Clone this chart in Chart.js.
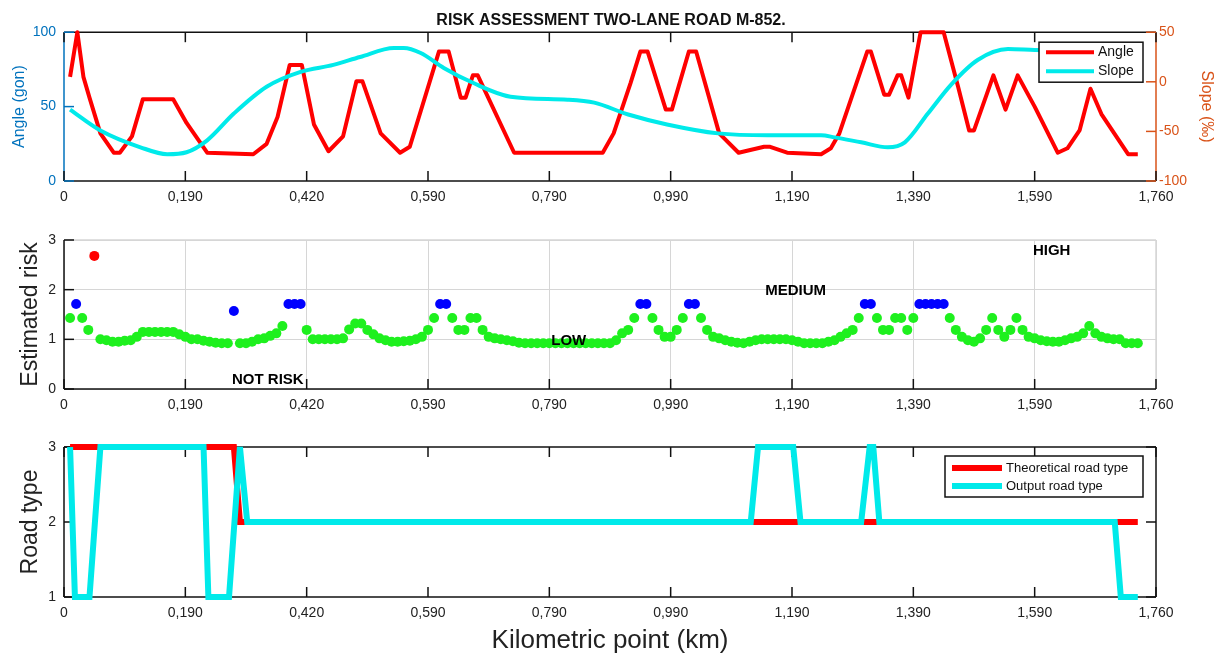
<!DOCTYPE html>
<html>
<head>
<meta charset="utf-8">
<title>Risk assessment two-lane road M-852</title>
<script src="https://cdn.jsdelivr.net/npm/chart.js@4.4.1/dist/chart.umd.min.js"></script>
<style>
    body { margin: 0; background: #fff; }
    canvas { position: absolute; left: 0; }
</style>
</head>
<body>
<canvas id="angle-slope-chart" width="1222" height="215" style="top:0px"></canvas>
<canvas id="risk-chart" width="1222" height="205" style="top:215px"></canvas>
<canvas id="road-type-chart" width="1222" height="240" style="top:420px"></canvas>
<script>
"use strict";

// x axis is drawn in "tick units": one unit between two labelled ticks
var tickLabels = ['0', '0,190', '0,420', '0,590', '0,790', '0,990', '1,190', '1,390', '1,590', '1,760'];

// top panel: horizontal angle (gon) and slope (per mille)
var angleKm = [0.05, 0.11, 0.16, 0.21, 0.30, 0.41, 0.46, 0.56, 0.65, 0.90, 1.01, 1.18, 1.56, 1.67, 1.76, 1.86, 1.96, 2.06, 2.18, 2.30,
    2.41, 2.46, 2.61, 2.77, 2.85, 3.09, 3.17, 3.27, 3.31, 3.37, 3.41, 3.71, 4.44, 4.53, 4.67, 4.75, 4.81, 4.96, 5.01, 5.15,
    5.21, 5.40, 5.56, 5.77, 5.82, 5.96, 6.24, 6.32, 6.39, 6.62, 6.65, 6.76, 6.80, 6.87, 6.90, 6.96, 7.06, 7.25, 7.37, 7.46,
    7.50, 7.66, 7.76, 7.86, 8.00, 8.19, 8.27, 8.37, 8.46, 8.55, 8.77, 8.85];
var angleGon = [70, 100, 70, 56, 32, 19, 19, 30, 55, 55, 39, 19, 18, 25, 43, 78, 78, 38, 20, 30,
    67, 67, 32, 19, 23, 87, 87, 56, 56, 71, 71, 19, 19, 32, 66, 87, 87, 48, 48, 87,
    87, 32, 19, 23, 23, 19, 18, 22, 32, 87, 87, 58, 58, 71, 71, 56, 100, 100, 63, 34,
    34, 71, 48, 71, 50, 19, 22, 34, 62, 45, 18, 18];
var slopeKm = [0.05, 0.30, 0.63, 0.85, 1.01, 1.18, 1.40, 1.67, 1.95, 2.22, 2.44, 2.72, 2.80, 2.94, 3.13, 3.37, 3.68, 4.15, 4.37, 4.65,
    4.97, 5.39, 5.80, 6.24, 6.35, 6.57, 6.79, 6.93, 7.12, 7.31, 7.53, 7.78, 8.00, 8.85];
var slopePermil = [-28, -49, -66, -73, -71, -59, -32, -5, 10, 17, 25, 34, 34, 29, 14, -1, -15, -18, -21, -33,
    -43, -52, -54, -54, -56, -61, -66, -61, -32, -3, 22, 33, 32, 30];

// middle panel: estimated risk, one sample every riskStep tick units
var riskStart = 0.05;
var riskStep = 0.05;
var riskValues = [
    1.43, 1.71, 1.43, 1.19, 2.68, 1.00, 0.98, 0.95, 0.95, 0.97, 0.98, 1.05, 1.15, 1.15, 1.15, 1.15, 1.15, 1.15, 1.10, 1.05,
    1.00, 1.00, 0.97, 0.95, 0.93, 0.92, 0.92, 1.57, 0.92, 0.92, 0.95, 1.00, 1.02, 1.07, 1.12, 1.27, 1.71, 1.71, 1.71, 1.19,
    1.00, 1.00, 1.00, 1.00, 1.00, 1.02, 1.20, 1.32, 1.32, 1.19, 1.10, 1.02, 0.98, 0.95, 0.95, 0.96, 0.97, 1.00, 1.05, 1.19,
    1.43, 1.71, 1.71, 1.43, 1.19, 1.19, 1.43, 1.43, 1.19, 1.05, 1.02, 1.00, 0.98, 0.96, 0.93, 0.92, 0.92, 0.92, 0.92, 0.92,
    0.92, 0.92, 0.92, 0.92, 0.92, 0.92, 0.92, 0.92, 0.92, 0.92, 0.98, 1.12, 1.19, 1.43, 1.71, 1.71, 1.43, 1.19, 1.05, 1.05,
    1.19, 1.43, 1.71, 1.71, 1.43, 1.19, 1.05, 1.02, 0.98, 0.95, 0.93, 0.92, 0.95, 0.98, 1.00, 1.00, 1.00, 1.00, 1.00, 0.98,
    0.95, 0.92, 0.92, 0.92, 0.92, 0.95, 0.98, 1.05, 1.12, 1.19, 1.43, 1.71, 1.71, 1.43, 1.19, 1.19, 1.43, 1.43, 1.19, 1.43,
    1.71, 1.71, 1.71, 1.71, 1.71, 1.43, 1.19, 1.05, 0.98, 0.95, 1.02, 1.19, 1.43, 1.19, 1.05, 1.19, 1.43, 1.19, 1.05, 1.02,
    0.98, 0.96, 0.95, 0.95, 0.98, 1.02, 1.05, 1.12, 1.27, 1.12, 1.05, 1.02, 1.00, 1.00, 0.92, 0.92, 0.92
];
var riskLabels = [
    { text: 'NOT RISK', x: 1.68, y: 0.18 },
    { text: 'LOW', x: 4.16, y: 0.97 },
    { text: 'MEDIUM', x: 6.03, y: 1.97 },
    { text: 'HIGH', x: 8.14, y: 2.78 }
];

// bottom panel: road type
var theoreticalKm = [0.05, 1.40, 1.45, 8.85];
var theoreticalType = [3, 3, 2, 2];
var outputKm = [0.05, 0.09, 0.21, 0.30, 1.15, 1.19, 1.36, 1.45, 1.51, 5.66, 5.72, 6.01, 6.07, 6.57, 6.64, 6.67, 6.72, 8.66, 8.71, 8.85];
var outputType = [3, 1, 1, 3, 3, 1, 1, 3, 2, 2, 3, 3, 2, 2, 3, 3, 2, 2, 1, 1];

var FONT = '"Liberation Sans", Arial, sans-serif';
var RED = '#ff0000';
var CYAN = '#00eaea';
var BLUE_AXIS = '#0072bd';
var ORANGE_AXIS = '#d95319';

function toPoints(xs, ys) {
    return xs.map(function (x, i) { return { x: x, y: ys[i] }; });
}

function riskColor(v) {
    if (v >= 2.5) return '#ff0000';
    if (v >= 1.5) return '#0000ff';
    return '#1ef01e';
}

/* box around the plot area with inward ticks, matlab style */
var axesFrame = {
    id: 'axesFrame',
    beforeDatasetsDraw: function (chart, args, opts) {
        var ctx = chart.ctx, a = chart.chartArea, xs = chart.scales.x;
        var line = function (x1, y1, x2, y2, c) {
            ctx.strokeStyle = c;
            ctx.beginPath();
            ctx.moveTo(x1, y1);
            ctx.lineTo(x2, y2);
            ctx.stroke();
        };
        ctx.save();
        ctx.lineWidth = 1.5;
        line(a.left, a.top, a.right, a.top, opts.top);
        line(a.right, a.top, a.right, a.bottom, opts.right);
        line(a.left, a.bottom, a.right, a.bottom, opts.bottom);
        line(a.left, a.top, a.left, a.bottom, opts.left);
        xs.ticks.forEach(function (t) {
            var px = xs.getPixelForValue(t.value);
            line(px, a.bottom, px, a.bottom - 10, opts.bottom);
            if (opts.topTicks) line(px, a.top, px, a.top + 10, opts.top);
        });
        (opts.yTicks || []).forEach(function (yt) {
            var s = chart.scales[yt.axis];
            s.ticks.forEach(function (t) {
                var py = s.getPixelForValue(t.value);
                if (yt.side === 'left') line(a.left, py, a.left + 10, py, yt.color);
                else line(a.right, py, a.right - 10, py, yt.color);
            });
        });
        ctx.restore();
    }
};

/* boxed legend inside the top right corner of the plot area */
var boxLegend = {
    id: 'boxLegend',
    afterDraw: function (chart, args, opts) {
        if (!opts.items) return;
        var ctx = chart.ctx, a = chart.chartArea;
        var x = a.right - opts.right - opts.width, y = a.top + opts.top;
        ctx.save();
        ctx.fillStyle = '#fff';
        ctx.fillRect(x, y, opts.width, opts.height);
        ctx.strokeStyle = '#111';
        ctx.lineWidth = 1.5;
        ctx.strokeRect(x, y, opts.width, opts.height);
        ctx.font = opts.fontSize + 'px ' + FONT;
        ctx.textBaseline = 'middle';
        opts.items.forEach(function (it, i) {
            var ly = y + opts.firstRow + i * opts.rowGap;
            ctx.strokeStyle = it.color;
            ctx.lineWidth = opts.lineWidth;
            ctx.beginPath();
            ctx.moveTo(x + 7, ly);
            ctx.lineTo(x + 7 + opts.sample, ly);
            ctx.stroke();
            ctx.fillStyle = '#111';
            ctx.fillText(it.label, x + 11 + opts.sample, ly);
        });
        ctx.restore();
    }
};

/* risk class captions on the middle panel */
var riskCaptions = {
    id: 'riskCaptions',
    afterDatasetsDraw: function (chart) {
        var ctx = chart.ctx;
        ctx.save();
        ctx.font = 'bold 15px ' + FONT;
        ctx.fillStyle = '#000';
        ctx.textAlign = 'center';
        ctx.textBaseline = 'middle';
        riskLabels.forEach(function (l) {
            ctx.fillText(l.text, chart.scales.x.getPixelForValue(l.x), chart.scales.y.getPixelForValue(l.y));
        });
        ctx.restore();
    }
};

function xAxis(height, title) {
    return {
        type: 'linear', min: 0, max: 9,
        ticks: {
            stepSize: 1, autoSkip: false, maxRotation: 0, padding: 8,
            color: '#222', font: { family: FONT, size: 14 },
            callback: function (v) { return tickLabels[v]; }
        },
        grid: { display: false, drawTicks: false },
        border: { display: false },
        title: title || { display: false },
        afterFit: function (s) { s.height = height; }
    };
}

function yAxis(pos, min, max, step, color, label, size, pad, width) {
    return {
        type: 'linear', position: pos, min: min, max: max,
        ticks: { stepSize: step, padding: pos === 'left' ? 8 : 3, color: color, font: { family: FONT, size: 14 } },
        grid: { display: false, drawTicks: false },
        border: { display: false },
        title: { display: true, text: label, color: color, font: { family: FONT, size: size }, padding: { top: pad, bottom: pad } },
        afterFit: function (s) { s.width = width; }
    };
}

var baseOptions = function () {
    return { responsive: false, animation: false, events: [] };
};

// --- angle / slope ---
var opts1 = baseOptions();
opts1.layout = { padding: 0 };
opts1.plugins = {
    legend: { display: false },
    tooltip: { enabled: false },
    title: {
        display: true, text: 'RISK ASSESSMENT TWO-LANE ROAD M-852.', color: '#111',
        font: { family: FONT, size: 16, weight: 'bold' }, padding: { top: 11, bottom: 2 }
    },
    axesFrame: {
        top: '#111', bottom: '#111', left: BLUE_AXIS, right: ORANGE_AXIS, topTicks: true,
        yTicks: [{ axis: 'y', side: 'left', color: BLUE_AXIS }, { axis: 'y1', side: 'right', color: ORANGE_AXIS }]
    },
    boxLegend: {
        right: 13, top: 10, width: 104, height: 40, firstRow: 10, rowGap: 19,
        sample: 48, lineWidth: 4, fontSize: 14,
        items: [{ label: 'Angle', color: RED }, { label: 'Slope', color: CYAN }]
    }
};
opts1.scales = {
    x: xAxis(34),
    y: yAxis('left', 0, 100, 50, BLUE_AXIS, 'Angle (gon)', 16, 10, 64),
    y1: yAxis('right', -100, 50, 50, ORANGE_AXIS, 'Slope (\u2030)', 16, 6, 66)
};
new Chart(document.getElementById('angle-slope-chart'), {
    type: 'line',
    data: {
        datasets: [
            { label: 'Angle', data: toPoints(angleKm, angleGon), yAxisID: 'y', borderColor: RED, borderWidth: 4,
              pointRadius: 0, borderJoinStyle: 'round', clip: false, order: 2 },
            { label: 'Slope', data: toPoints(slopeKm, slopePermil), yAxisID: 'y1', borderColor: CYAN, borderWidth: 4,
              pointRadius: 0, cubicInterpolationMode: 'monotone', clip: false, order: 1 }
        ]
    },
    options: opts1,
    plugins: [axesFrame, boxLegend]
});

// --- estimated risk ---
var riskPoints = riskValues.map(function (v, i) { return { x: riskStart + i * riskStep, y: v }; });
var opts2 = baseOptions();
opts2.layout = { padding: { top: 25, right: 66 } };
opts2.plugins = {
    legend: { display: false },
    tooltip: { enabled: false },
    axesFrame: { top: '#d6d6d6', right: '#d6d6d6', bottom: '#111', left: '#111', topTicks: false,
        yTicks: [{ axis: 'y', side: 'left', color: '#111' }] }
};
opts2.scales = {
    x: xAxis(31),
    y: yAxis('left', 0, 3, 1, '#222', 'Estimated risk', 23, 17, 64)
};
opts2.scales.x.grid = { display: true, drawTicks: false, color: '#d6d6d6', lineWidth: 1 };
opts2.scales.y.grid = { display: true, drawTicks: false, color: '#d6d6d6', lineWidth: 1 };
new Chart(document.getElementById('risk-chart'), {
    type: 'scatter',
    data: {
        datasets: [{
            label: 'Estimated risk', data: riskPoints, pointRadius: 5, pointBorderWidth: 0,
            pointBackgroundColor: riskValues.map(riskColor), clip: false
        }]
    },
    options: opts2,
    plugins: [axesFrame, riskCaptions]
});

// --- road type ---
var opts3 = baseOptions();
opts3.layout = { padding: { top: 27, right: 66 } };
opts3.plugins = {
    legend: { display: false },
    tooltip: { enabled: false },
    axesFrame: { top: '#111', right: '#111', bottom: '#111', left: '#111', topTicks: true,
        yTicks: [{ axis: 'y', side: 'left', color: '#111' }, { axis: 'y', side: 'right', color: '#111' }] },
    boxLegend: {
        right: 13, top: 9, width: 198, height: 41, firstRow: 12, rowGap: 18,
        sample: 50, lineWidth: 6, fontSize: 13,
        items: [{ label: 'Theoretical road type', color: RED }, { label: 'Output road type', color: CYAN }]
    }
};
opts3.scales = {
    x: xAxis(63, { display: true, text: 'Kilometric point (km)', color: '#222',
        font: { family: FONT, size: 26 }, padding: { top: 4, bottom: 4 } }),
    y: yAxis('left', 1, 3, 1, '#222', 'Road type', 23, 17, 64)
};
new Chart(document.getElementById('road-type-chart'), {
    type: 'line',
    data: {
        datasets: [
            { label: 'Theoretical road type', data: toPoints(theoreticalKm, theoreticalType), borderColor: RED,
              borderWidth: 6, pointRadius: 0, clip: false, order: 2 },
            { label: 'Output road type', data: toPoints(outputKm, outputType), borderColor: CYAN,
              borderWidth: 6, pointRadius: 0, clip: false, order: 1 }
        ]
    },
    options: opts3,
    plugins: [axesFrame, boxLegend]
});
</script>
</body>
</html>
